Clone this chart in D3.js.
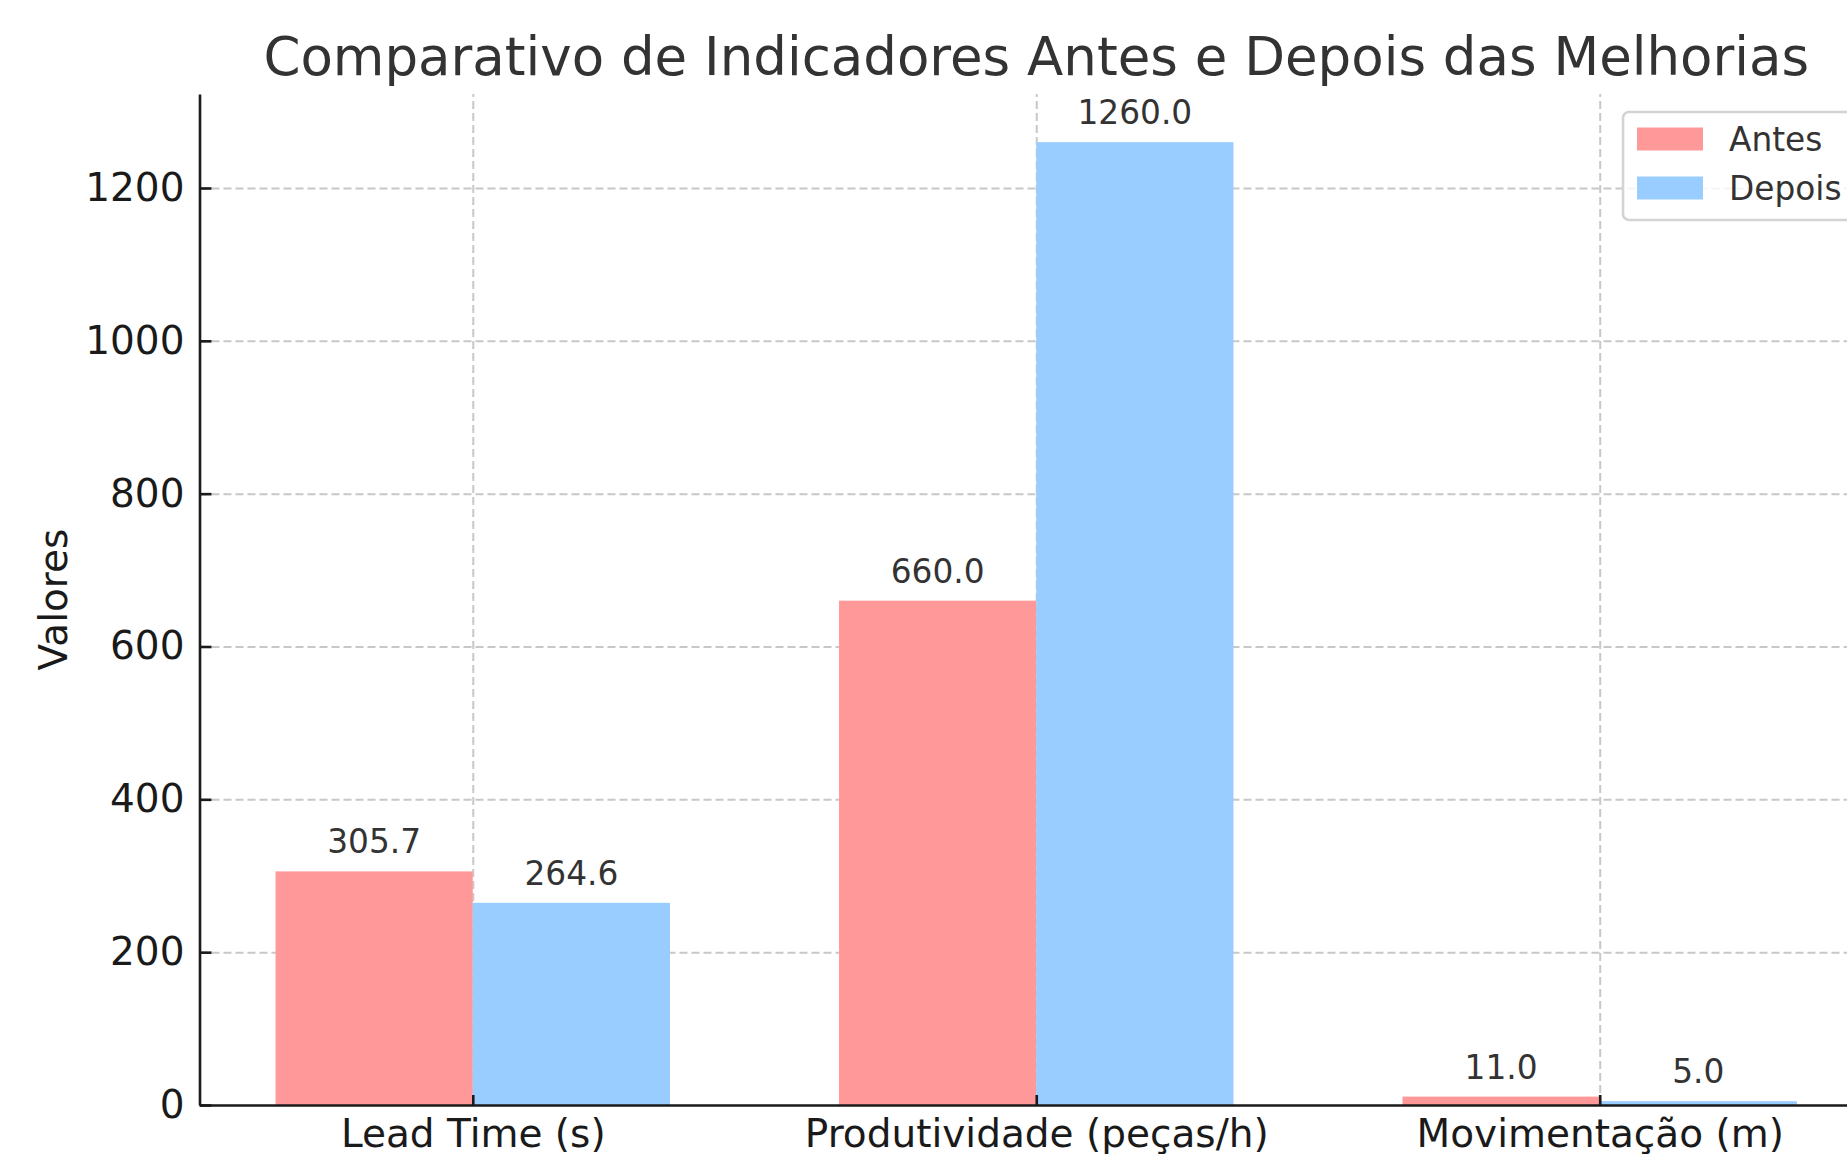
<html>
<head>
<meta charset="utf-8">
<title>Comparativo de Indicadores</title>
<style>
  body { margin: 0; background: #fff; }
  svg { display: block; font-family: "DejaVu Sans", sans-serif; }
  .axis path, .axis line { fill: none; stroke: #1a1a1a; stroke-width: 2.6; }
  .axis text { fill: #1a1a1a; font-size: 39px; }
  .grid line { stroke: #c8c8c8; stroke-width: 2; stroke-dasharray: 8, 4; }
  .grid path { display: none; }
</style>
</head>
<body>
<script src="https://cdn.jsdelivr.net/npm/d3@7/dist/d3.min.js"></script>
<script>
  // dados
  var categories = ["Lead Time (s)", "Produtividade (peças/h)", "Movimentação (m)"];
  var seriesNames = ["Antes", "Depois"];
  var antes = [305.7, 660.0, 11.0];
  var depois = [264.6, 1260.0, 5.0];
  var yTicks = [0, 200, 400, 600, 800, 1000, 1200];
  var colors = ["#ff9999", "#99ccff"];

  var width = 1847, height = 1154;
  var plotLeft = 199.5, plotRight = 1873, plotTop = 94, plotBottom = 1105;
  var barW = 0.35;

  var svg = d3.select("body").append("svg")
      .attr("width", width)
      .attr("height", height);

  // escalas (margem de 5% como no matplotlib)
  var span = (categories.length - 1) + 2 * barW;
  var x = d3.scaleLinear()
      .domain([-barW - 0.05 * span, categories.length - 1 + barW + 0.05 * span])
      .range([plotLeft, plotRight]);
  var ymax = d3.max(antes.concat(depois)) * 1.05;
  var y = d3.scaleLinear()
      .domain([0, ymax])
      .range([plotBottom, plotTop]);

  var idx = d3.range(categories.length);

  // grade
  svg.append("g")
    .attr("class", "grid")
    .attr("transform", "translate(0," + plotBottom + ")")
    .call(d3.axisBottom(x).tickValues(idx).tickSize(-(plotBottom - plotTop)).tickFormat(""));
  svg.append("g")
    .attr("class", "grid")
    .attr("transform", "translate(" + plotLeft + ",0)")
    .call(d3.axisLeft(y).tickValues(yTicks.slice(1)).tickSize(-(plotRight - plotLeft)).tickFormat(""));

  // barras
  var series = [antes, depois];
  series.forEach(function(vals, s) {
    var g = svg.append("g");
    g.selectAll("rect")
      .data(vals)
      .enter()
      .append("rect")
      .attr("x", function(d, i) { return x(i + (s - 1) * barW); })
      .attr("y", function(d) { return y(d); })
      .attr("width", x(barW) - x(0))
      .attr("height", function(d) { return plotBottom - y(d); })
      .attr("fill", colors[s]);
    g.selectAll("text")
      .data(vals)
      .enter()
      .append("text")
      .attr("x", function(d, i) { return x(i + (s - 0.5) * barW); })
      .attr("y", function(d) { return y(d) - 18; })
      .attr("text-anchor", "middle")
      .attr("fill", "#333")
      .style("font-size", "32.8px")
      .text(function(d) { return d.toFixed(1); });
  });

  // eixos
  svg.append("g")
    .attr("class", "axis")
    .attr("transform", "translate(0," + plotBottom + ")")
    .call(d3.axisBottom(x).tickValues(idx).tickSizeInner(-10).tickSizeOuter(0).tickPadding(14)
      .tickFormat(function(i) { return categories[i]; }));
  svg.append("g")
    .attr("class", "axis")
    .attr("transform", "translate(" + plotLeft + ",0)")
    .call(d3.axisLeft(y).tickValues(yTicks).tickSizeInner(-12).tickSizeOuter(0).tickPadding(15)
      .tickFormat(d3.format("d")));
  svg.selectAll(".axis").attr("font-family", null).attr("font-size", null);

  // rótulo do eixo y
  svg.append("text")
    .attr("transform", "translate(67," + (plotTop + plotBottom) / 2 + ") rotate(-90)")
    .attr("text-anchor", "middle")
    .attr("fill", "#1a1a1a")
    .style("font-size", "39px")
    .text("Valores");

  // título
  svg.append("text")
    .attr("x", (plotLeft + plotRight) / 2)
    .attr("y", 75)
    .attr("text-anchor", "middle")
    .attr("fill", "#333")
    .style("font-size", "53px")
    .text("Comparativo de Indicadores Antes e Depois das Melhorias");

  // legenda
  var leg = svg.append("g").attr("transform", "translate(1623,112)");
  leg.append("rect")
    .attr("width", 234)
    .attr("height", 108)
    .attr("rx", 6)
    .attr("fill", "#fff")
    .attr("fill-opacity", 0.8)
    .attr("stroke", "#d4d4d4")
    .attr("stroke-width", 2.6);
  var items = leg.selectAll(".item")
    .data(seriesNames)
    .enter()
    .append("g")
    .attr("transform", function(d, i) { return "translate(14," + (27 + i * 49) + ")"; });
  items.append("rect")
    .attr("y", -11.5)
    .attr("width", 66)
    .attr("height", 23)
    .attr("fill", function(d, i) { return colors[i]; });
  items.append("text")
    .attr("x", 92)
    .attr("dy", "0.37em")
    .attr("fill", "#333")
    .style("font-size", "32.8px")
    .text(function(d) { return d; });
</script>
</body>
</html>
